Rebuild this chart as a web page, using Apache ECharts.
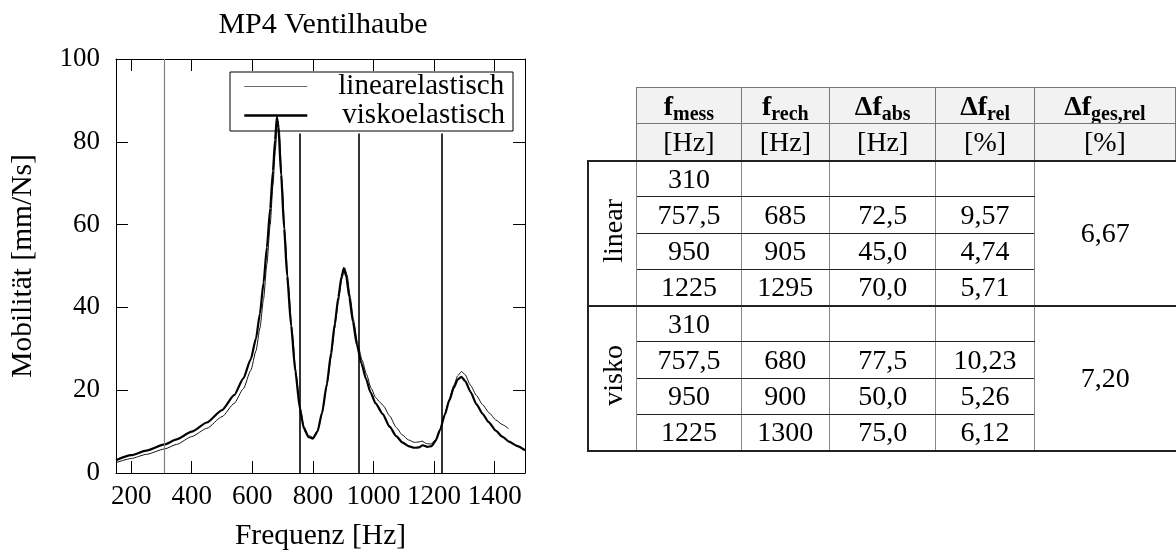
<!DOCTYPE html>
<html>
<head>
<meta charset="utf-8">
<title>MP4 Ventilhaube</title>
<script src="https://cdn.jsdelivr.net/npm/echarts@6/dist/echarts.min.js"></script>
<style>
	body{margin:0;background:#fff;}
	#chart{position:absolute;left:0;top:0;width:1176px;height:554px;}
	#tab{position:absolute;left:587px;top:87px;border-collapse:collapse;table-layout:fixed;font-family:"Liberation Serif",serif;font-size:28px;color:#000;}
	#tab td{padding:0;text-align:center;vertical-align:middle;white-space:nowrap;overflow:hidden;line-height:1;}
	#tab td.leer{border:none;background:none;}
	#tab td.kopf{background:#f2f2f2;border:1px solid #777;}
	#tab td.kopf sub{font-size:20px;font-weight:bold;vertical-align:-5px;line-height:0;}
	#tab td.wert{border-left:1px solid #888;border-right:1px solid #888;border-top:1px solid #222;border-bottom:1px solid #222;}
	#tab td.gruppe{border-left:2px solid #222;border-right:1px solid #888;}
	#tab td.ges{border-left:1px solid #888;}
	#tab tr.erste td{border-top:2px solid #222;}
	#tab tr.letzte td, #tab td.unten{border-bottom:2px solid #222;}
	#tab .senk{writing-mode:vertical-rl;transform:rotate(180deg);display:inline-block;}
</style>
</head>
<body>
<div id="chart"></div>
<table id="tab"></table>
<script>
(function(){
	const SCHRIFT = 'Liberation Serif';

	// Frequenzgang, linear-elastisches Modell
	const linearFrequenz = [150,200,250,310,350,400,450,500,540,570,595,612,625,637,648,659,668,676,682,685,689,697,707,717,730,743,757,770,785,800,815,830,846,860,872,884,895,905,913,922,934,947,962,977,992,1007,1020,1033,1053,1075,1095,1115,1135,1150,1160,1175,1190,1205,1220,1235,1250,1265,1278,1290,1302,1320,1340,1360,1382,1404,1425,1446];
	const linearMobilitaet = [2.5,3.5,4.5,5.8,6.9,8.8,10.8,13.6,16.8,20.3,24.8,29.5,35,42,50.5,60,69.5,78,83.5,85,83,72,59,47.5,35.5,25,16.2,11.3,9.1,8.6,10.2,14.3,21,28,35,41.5,46.8,49.5,47.8,43,37,31.5,27.3,23.8,20.5,18.2,17.2,16.2,13.8,11,9.2,8,7.4,7.5,7.7,7.1,7.0,8.0,10.5,14.2,17.8,21.2,23.5,24.5,23.8,21.2,18.7,16.5,14.5,12.8,11.7,10.7];

	// Frequenzgang, viskoelastisches Modell
	const viskoFrequenz = [150,200,250,310,350,400,450,500,540,570,595,612,625,637,648,659,668,675,681,686,695,705,715,728,742,757,770,785,800,815,830,846,860,872,884,894,902,910,920,932,945,960,975,990,1007,1030,1053,1075,1095,1115,1135,1150,1162,1178,1192,1205,1220,1235,1250,1265,1278,1290,1303,1320,1340,1360,1380,1404,1425,1447,1475,1500];
	const viskoMobilitaet = [3.1,4.3,5.4,6.9,8.1,10.0,12.2,15.2,18.8,22.8,27.5,32.5,38.5,46,54.5,64,73,80.5,86,83.5,72,59,47.5,35.5,24.5,15.5,10.8,8.7,8.3,10,14.5,21.5,29,36,42.5,47.3,49.5,47.5,42.5,36.5,31,26.5,22.8,19.5,16.8,14.3,11.2,8.9,7.4,6.5,6.1,6.2,6.7,6.3,6.5,7.8,10.5,14,17.5,20.6,22.6,23.2,22.2,19.6,16.6,14.3,12.3,10.2,8.8,7.6,6.5,5.5];

	// gemessene Eigenfrequenzen (senkrechte Linien)
	const messFrequenzen = [310, 757.5, 950, 1225];
	const messLinienHoehe = [100, 82, 82, 82];

	const xTicks = [200, 400, 600, 800, 1000, 1200, 1400];

	// Tabelle
	const tabGruppen = ['linear', 'visko'];
	const tabMess = ['310', '757,5', '950', '1225'];
	const tabRech = [['', '685', '905', '1295'], ['', '680', '900', '1300']];
	const tabAbs = [['', '72,5', '45,0', '70,0'], ['', '77,5', '50,0', '75,0']];
	const tabRel = [['', '9,57', '4,74', '5,71'], ['', '10,23', '5,26', '6,12']];
	const tabGes = ['6,67', '7,20'];

	let text_style = {fontFamily: SCHRIFT, fontSize: 27, color: '#000'};
	let name_style = {fontFamily: SCHRIFT, fontSize: 29.5, color: '#000'};

	let paare = (fs, vs) => fs.map((f, i) => [f, vs[i]]);

	let achse_linie = {show: true, onZero: false, lineStyle: {color: '#000', width: 1}};
	let achse_tick = {show: true, inside: true, length: 12, lineStyle: {color: '#000', width: 1}};

	let mark_data = messFrequenzen.map((f, i) => [
		{coord: [f, 0], lineStyle: i === 0 ? {color: '#808080', width: 1.2, type: 'solid'} : {color: '#000', width: 1.6, type: 'solid'}},
		{coord: [f, messLinienHoehe[i]]}
	]);

	let chart = echarts.init(document.getElementById('chart'));
	let option = {
		animation: false,
		title: {
			text: 'MP4 Ventilhaube',
			left: 318,
			top: 5,
			textAlign: 'center',
			textStyle: {fontFamily: SCHRIFT, fontSize: 30, fontWeight: 'normal', color: '#000'}
		},
		legend: {
			data: [
				{name: 'linearelastisch', lineStyle: {color: '#6a6a6a', width: 1.2}},
				{name: 'viskoelastisch', lineStyle: {color: '#000', width: 2.6}, textStyle: {padding: [0, 0, 0, 30]}}
			],
			orient: 'vertical',
			left: 230,
			top: 72,
			padding: [0, 8, 1, 13],
			itemWidth: 63,
			itemHeight: 1,
			itemGap: 0,
			borderColor: '#000',
			borderWidth: 1,
			borderRadius: 0,
			itemStyle: {borderWidth: 0, opacity: 0},
			textStyle: {fontFamily: SCHRIFT, fontSize: 29, color: '#000', lineHeight: 26, padding: [0, 0, 0, 26]}
		},
		grid: {left: 116, top: 59, right: 651, bottom: 81, outerBoundsMode: 'none'},
		xAxis: [
			{
				type: 'value', min: 150, max: 1500, position: 'bottom',
				name: 'Frequenz [Hz]', nameLocation: 'middle', nameGap: 48,
				nameTextStyle: name_style,
				axisLine: achse_linie,
				axisTick: Object.assign({customValues: xTicks}, achse_tick),
				axisLabel: Object.assign({customValues: xTicks, margin: 10, formatter: v => String(v)}, text_style),
				splitLine: {show: false}
			},
			{
				type: 'value', min: 150, max: 1500, position: 'top',
				axisLine: achse_linie,
				axisTick: Object.assign({customValues: xTicks}, achse_tick),
				axisLabel: {show: false},
				splitLine: {show: false}
			}
		],
		yAxis: [
			{
				type: 'value', min: 0, max: 100, interval: 20, position: 'left',
				name: 'Mobilität [mm/Ns]', nameLocation: 'middle', nameGap: 78, nameRotate: 90,
				nameTextStyle: name_style,
				axisLine: achse_linie,
				axisTick: achse_tick,
				axisLabel: Object.assign({margin: 16}, text_style),
				splitLine: {show: false}
			},
			{
				type: 'value', min: 0, max: 100, interval: 20, position: 'right',
				axisLine: achse_linie,
				axisTick: achse_tick,
				axisLabel: {show: false},
				splitLine: {show: false}
			}
		],
		series: [
			{
				name: 'Messung', type: 'line', data: [], silent: true,
				markLine: {symbol: 'none', silent: true, label: {show: false}, animation: false, data: mark_data}
			},
			{
				name: 'linearelastisch', type: 'line', data: paare(linearFrequenz, linearMobilitaet),
				symbol: 'none', smooth: 0.2, smoothMonotone: 'x',
				lineStyle: {color: '#111', width: 1}, itemStyle: {color: '#111'}
			},
			{
				name: 'viskoelastisch', type: 'line', data: paare(viskoFrequenz, viskoMobilitaet),
				symbol: 'none', smooth: 0.2, smoothMonotone: 'x',
				lineStyle: {color: '#000', width: 2.2}, itemStyle: {color: '#000'}
			}
		]
	};
	chart.setOption(option);

	// Tabelle rechts
	let kopf1 = ['<b>f</b><sub>mess</sub>', '<b>f</b><sub>rech</sub>', '<b>Δf</b><sub>abs</sub>', '<b>Δf</b><sub>rel</sub>', '<b>Δf</b><sub>ges,rel</sub>'];
	let kopf2 = ['[Hz]', '[Hz]', '[Hz]', '[%]', '[%]'];
	let html = `<colgroup><col style="width:49px"><col style="width:105px"><col style="width:89px"><col style="width:107px"><col style="width:99px"><col style="width:142px"></colgroup>`;
	html += `<tr style="height:36px"><td class="leer"></td>${kopf1.map(k => `<td class="kopf">${k}</td>`).join('')}</tr>`;
	html += `<tr style="height:37px"><td class="leer"></td>${kopf2.map(k => `<td class="kopf">${k}</td>`).join('')}</tr>`;
	tabGruppen.forEach((g, gi) => {
		let unten = gi === tabGruppen.length - 1 ? ' unten' : '';
		tabMess.forEach((m, ri) => {
			let cls = ri === 0 ? 'erste' : (ri === tabMess.length - 1 && unten ? 'letzte' : '');
			html += `<tr class="${cls}" style="height:36.25px">`;
			if(ri === 0){
				html += `<td class="gruppe${unten}" rowspan="4"><span class="senk">${g}</span></td>`;
			}
			html += `<td class="wert">${m}</td><td class="wert">${tabRech[gi][ri]}</td><td class="wert">${tabAbs[gi][ri]}</td><td class="wert">${tabRel[gi][ri]}</td>`;
			if(ri === 0){
				html += `<td class="ges${unten}" rowspan="4">${tabGes[gi]}</td>`;
			}
			html += `</tr>`;
		});
	});
	document.getElementById('tab').innerHTML = html;
})();
</script>
</body>
</html>
